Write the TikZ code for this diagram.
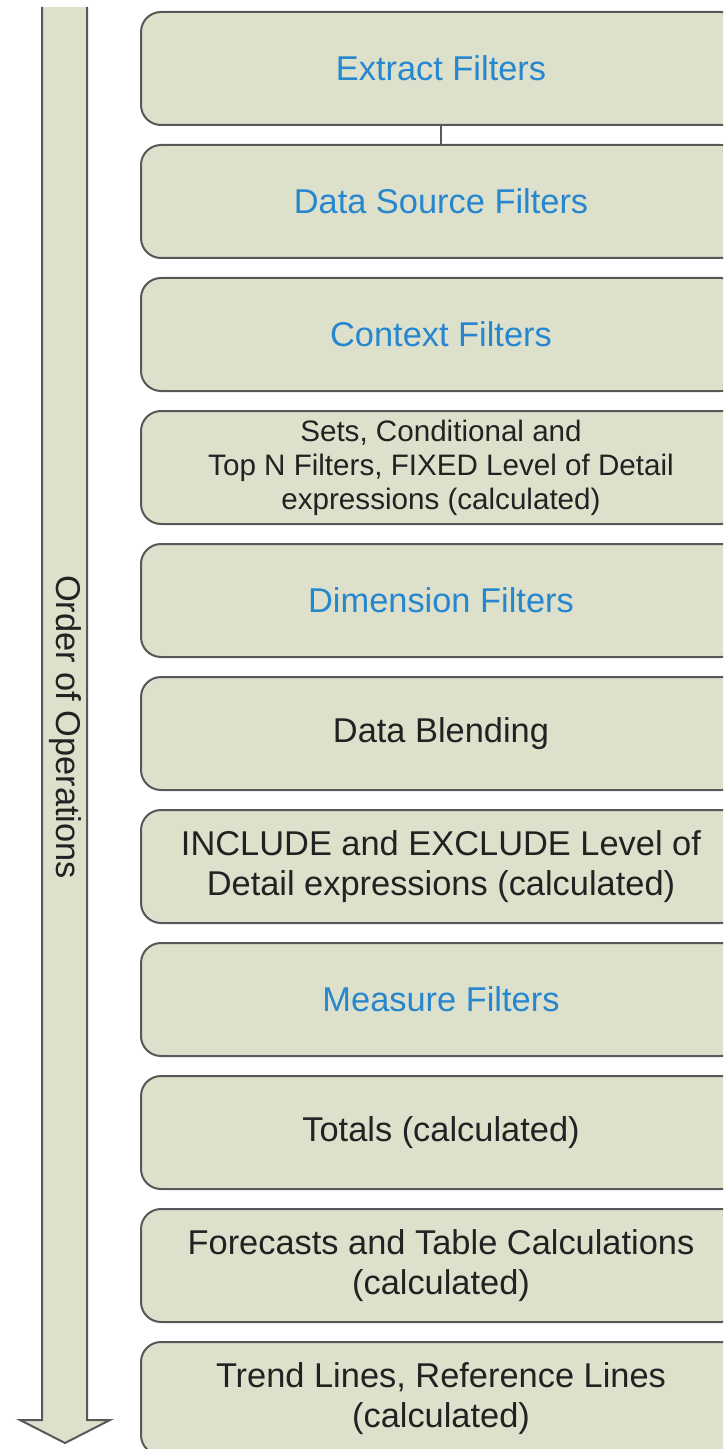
\documentclass[tikz,border=0pt]{standalone}
\usepackage{fontspec}
\setmainfont{Liberation Sans}
\usetikzlibrary{positioning}

\definecolor{boxfill}{RGB}{221,225,204}
\definecolor{boxline}{RGB}{88,88,88}
\definecolor{filterblue}{RGB}{38,134,206}
\definecolor{textgray}{RGB}{34,34,34}

\tikzset{
  opbox/.style={draw=boxline, fill=boxfill, line width=1pt, rounded corners=10pt,
    minimum width=300pt, minimum height=56.5pt, outer sep=0pt, inner sep=0pt,
    align=center, font=\fontsize{17.2}{20}\selectfont, text=textgray},
  filterbox/.style={opbox, text=filterblue},
  smallbox/.style={opbox, font=\fontsize{14.8}{17}\selectfont},
}

\begin{document}
\begin{tikzpicture}[x=0.5pt, y=-0.5pt, node distance=10pt]
        \clip (0,0) rectangle (723,1449);

        % order arrow
        \fill[boxfill] (42,7) -- (42,1420) -- (20,1420) -- (65,1443) -- (110,1420) -- (87,1420) -- (87,7) -- cycle;
        \draw[boxline, line width=1pt] (42,7) -- (42,1420) -- (20,1420) -- (65,1443) -- (110,1420) -- (87,1420) -- (87,7);
        \node[rotate=-90, text=textgray, font=\fontsize{17.2}{20}\selectfont] (order) at (65,727) {Order of Operations};

        % steps
        \node[filterbox] (extract) at (441,68.5) {Extract Filters};
        \node[filterbox, below=of extract] (dsource) {Data Source Filters};
        \node[filterbox, below=of dsource] (context) {Context Filters};
        \node[smallbox, below=of context] (sets) {Sets, Conditional and\\Top N Filters, FIXED Level of Detail\\expressions (calculated)};
        \node[filterbox, below=of sets] (dimension) {Dimension Filters};
        \node[opbox, below=of dimension] (blending) {Data Blending};
        \node[opbox, below=of blending] (include) {INCLUDE and EXCLUDE Level of\\Detail expressions (calculated)};
        \node[filterbox, below=of include] (measure) {Measure Filters};
        \node[opbox, below=of measure] (totals) {Totals (calculated)};
        \node[opbox, below=of totals] (forecasts) {Forecasts and Table Calculations\\(calculated)};
        \node[opbox, below=of forecasts] (trend) {Trend Lines, Reference Lines\\(calculated)};

        \draw[boxline, line width=1pt] (extract.south) -- (dsource.north);
\end{tikzpicture}
\end{document}
